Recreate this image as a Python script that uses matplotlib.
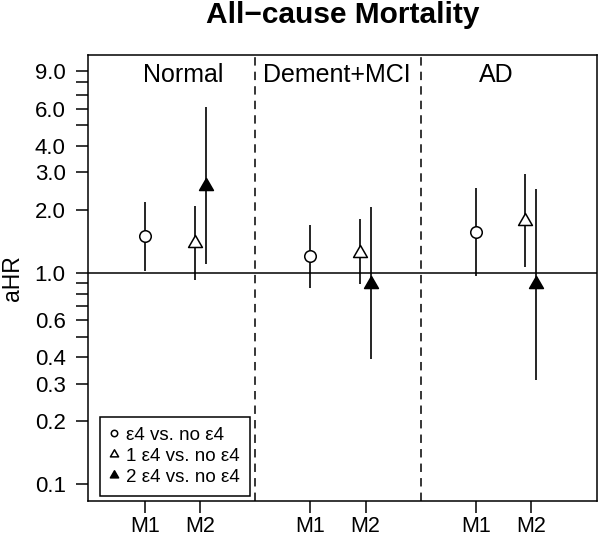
import matplotlib
matplotlib.use("Agg")
import matplotlib.pyplot as plt
from matplotlib.lines import Line2D
from matplotlib.path import Path
from matplotlib.ticker import NullLocator, FixedLocator, FixedFormatter

plt.rcParams['font.family'] = ['Liberation Sans', 'DejaVu Sans']

# ---- data ----
groups = ['Normal', 'Dement+MCI', 'AD']
model_labels = ['M1', 'M2', 'M1', 'M2', 'M1', 'M2']

# ε4 vs. no ε4 (M1)
any_hr = [1.50, 1.20, 1.57]
any_lo = [1.025, 0.855, 0.968]
any_hi = [2.18, 1.69, 2.52]
# 1 ε4 vs. no ε4 (M2)
one_hr = [1.39, 1.25, 1.76]
one_lo = [0.933, 0.884, 1.07]
one_hi = [2.08, 1.80, 2.95]
# 2 ε4 vs. no ε4 (M2)
two_hr = [2.58, 0.892, 0.89]
two_lo = [1.11, 0.394, 0.313]
two_hi = [6.10, 2.05, 2.49]

ytick_vals = [0.1, 0.2, 0.3, 0.4, 0.5, 0.6, 0.7, 0.8, 0.9, 1.0,
              2.0, 3.0, 4.0, 5.0, 6.0, 7.0, 8.0, 9.0]
ytick_labels = ['0.1', '0.2', '0.3', '0.4', '', '0.6', '', '', '', '1.0',
                '2.0', '3.0', '4.0', '', '6.0', '', '', '9.0']
legend_labels = ['ε4 vs. no ε4', '1 ε4 vs. no ε4', '2 ε4 vs. no ε4']

# ---- positions / styles ----
m1_x = [1, 4, 7]
m2_x = [2, 5, 8]
off = 0.1
xtick_pos = [1, 2, 4, 5, 7, 8]
sep_x = [3, 6]
group_label_x = [1.695, 4.485, 7.38]
group_label_y = 8.05

tri = Path([(0, 1.5551), (1.3468, -0.7776), (-1.3468, -0.7776), (0, 1.5551)],
           closed=True)
LW = 1.1

fig = plt.figure(figsize=(6, 5.41), dpi=100)
ax = fig.add_axes([88/600, 1-501/541, (597-88)/600, (501-55)/541])
ax.set_yscale('log')
ax.set_xlim(-0.035, 9.2)
ax.set_ylim(10**-1.0781, 10**1.0323)

ax.axhline(1.0, color='black', lw=LW, zorder=1)
for sx in sep_x:
    ax.axvline(sx, color='black', lw=LW, dashes=(5.5, 4.0), zorder=1)

# error bars
ax.vlines(m1_x, any_lo, any_hi, color='black', lw=1.2, zorder=2)
ax.vlines([x - off for x in m2_x], one_lo, one_hi, color='black', lw=1.2, zorder=2)
ax.vlines([x + off for x in m2_x], two_lo, two_hi, color='black', lw=1.2, zorder=2)

ax.plot(m1_x, any_hr, linestyle='none', marker='o', ms=8.3, mfc='white',
        mec='black', mew=1.1, zorder=3)
ax.plot([x - off for x in m2_x], one_hr, linestyle='none', marker=tri, ms=11.5,
        mfc='white', mec='black', mew=1.1, zorder=3)
ax.plot([x + off for x in m2_x], two_hr, linestyle='none', marker=tri, ms=11.5,
        mfc='black', mec='black', mew=1.1, zorder=3)

for gx, g in zip(group_label_x, groups):
    ax.text(gx, group_label_y, g, ha='center', va='baseline', fontsize=18)

ax.yaxis.set_major_locator(FixedLocator(ytick_vals))
ax.yaxis.set_major_formatter(FixedFormatter(ytick_labels))
ax.yaxis.set_minor_locator(NullLocator())
ax.set_xticks(xtick_pos)
ax.set_xticklabels(model_labels)
ax.tick_params(axis='both', direction='out', length=8.6, width=LW,
               labelsize=16, colors='black')
ax.tick_params(axis='x', labelsize=15.5, pad=2)
ax.tick_params(axis='y', pad=7.5)
for sp in ax.spines.values():
    sp.set_linewidth(LW)

ax.set_ylabel('aHR', fontsize=16.5)
ax.yaxis.set_label_coords(-0.126, 0.5)

handles = [
    Line2D([], [], linestyle='none', marker='o', ms=4.6, mfc='white', mec='black', mew=1.1),
    Line2D([], [], linestyle='none', marker=tri, ms=6.8, mfc='white', mec='black', mew=1.1),
    Line2D([], [], linestyle='none', marker=tri, ms=6.8, mfc='black', mec='black', mew=1.1),
]
leg = ax.legend(handles, legend_labels, loc='lower left',
                bbox_to_anchor=(0.0236, 0.0112), borderaxespad=0,
                fontsize=13.5, handlelength=0.4, handletextpad=0.45,
                borderpad=0.55, labelspacing=0.2, fancybox=False,
                framealpha=1, edgecolor='black')
leg.get_frame().set_linewidth(LW)

fig.text(0.571, 1 - 23/541, 'All\u2212cause Mortality', ha='center', va='baseline',
         fontsize=21.5, fontweight='bold')

fig.savefig('out.png', dpi=100)
